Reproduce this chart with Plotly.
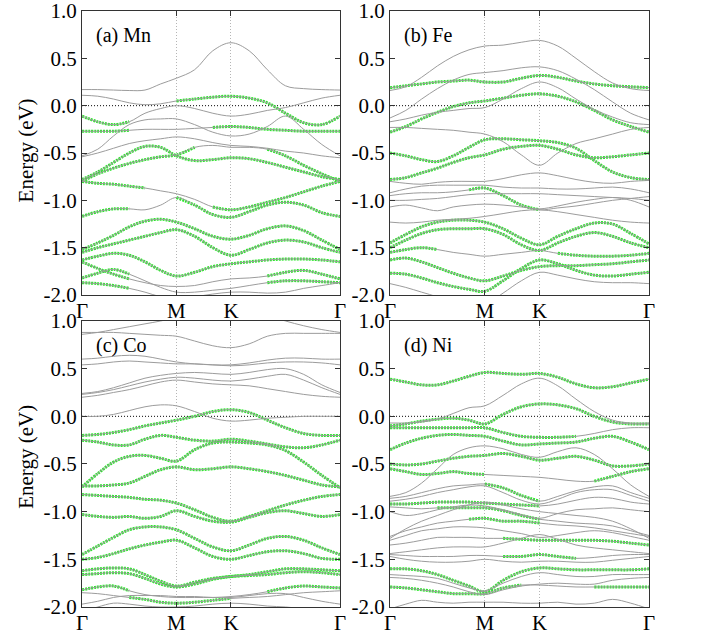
import plotly.graph_objects as go

# k-path sample positions (Gamma - M - K - Gamma)
k_path = [0.0, 0.0962, 0.1925, 0.2887, 0.3849, 0.4811, 0.5774,
          0.6885, 0.7996, 0.9107,
          1.0218, 1.1329, 1.2440, 1.3552, 1.4663, 1.5774]
k_ticks = [0.0, 0.5774, 0.9107, 1.5774]
k_labels = ["Γ", "M", "K", "Γ"]
e_ticks = [-2.0, -1.5, -1.0, -0.5, 0.0, 0.5, 1.0]
e_labels = ["-2.0", "-1.5", "-1.0", "-0.5", "0.0", "0.5", "1.0"]
panel_titles = ["(a) Mn", "(b) Fe", "(c) Co", "(d) Ni"]

ALL = [(0, 15)]
NONE = []

# ---------------- (a) Mn ----------------
mn_bands = [
    [0.17, 0.17, 0.165, 0.16, 0.165, 0.23, 0.29, 0.38, 0.58, 0.665, 0.58, 0.38, 0.21, 0.18, 0.17, 0.165],
    [0.11, 0.10, 0.07, 0.03, 0.01, 0.02, 0.05, 0.07, 0.09, 0.10, 0.08, 0.03, -0.08, -0.18, -0.2, -0.11],
    [-0.11, -0.17, -0.2, -0.17, -0.08, -0.03, 0.0, -0.03, -0.08, -0.11, -0.09, -0.05, -0.02, 0.03, 0.08, 0.11],
    [-0.53, -0.46, -0.32, -0.2, -0.15, -0.14, -0.14, -0.2, -0.28, -0.32, -0.3, -0.22, -0.11, -0.25, -0.41, -0.53],
    [-0.27, -0.27, -0.27, -0.26, -0.25, -0.25, -0.25, -0.24, -0.23, -0.22, -0.23, -0.25, -0.26, -0.27, -0.27, -0.27],
    [-0.54, -0.5, -0.45, -0.4, -0.37, -0.35, -0.33, -0.35, -0.39, -0.42, -0.43, -0.45, -0.48, -0.5, -0.53, -0.55],
    [-0.78, -0.7, -0.6, -0.5, -0.43, -0.44, -0.53, -0.58, -0.57, -0.55, -0.56, -0.6, -0.65, -0.7, -0.75, -0.78],
    [-0.8, -0.72, -0.66, -0.61, -0.57, -0.54, -0.52, -0.44, -0.42, -0.44, -0.44, -0.46, -0.53, -0.63, -0.72, -0.8],
    [-0.8, -0.82, -0.83, -0.85, -0.87, -0.9, -0.93, -0.99, -1.07, -1.1, -1.07, -1.02, -0.97, -0.91, -0.85, -0.8],
    [-1.17, -1.12, -1.09, -1.09, -1.1, -1.05, -0.97, -1.05, -1.15, -1.18, -1.12, -1.05, -1.02, -1.05, -1.13, -1.17],
    [-1.52, -1.45, -1.37, -1.28, -1.22, -1.2, -1.23, -1.3, -1.38, -1.41, -1.37, -1.3, -1.27, -1.32, -1.42, -1.52],
    [-1.55, -1.5, -1.46, -1.42, -1.38, -1.34, -1.31, -1.38, -1.5, -1.58, -1.52, -1.45, -1.42, -1.44, -1.5, -1.55],
    [-1.63, -1.59, -1.56, -1.58, -1.65, -1.74, -1.8, -1.76, -1.7, -1.67, -1.65, -1.63, -1.62, -1.62, -1.63, -1.65],
    [-1.65, -1.72, -1.78, -1.83, -1.87, -1.9, -1.91, -1.9, -1.86, -1.83, -1.82, -1.8, -1.76, -1.74, -1.78, -1.83],
    [-1.82, -1.77, -1.73, -1.78, -1.85, -1.92, -1.97, -1.97, -1.95, -1.93, -1.9, -1.87, -1.85, -1.85, -1.86, -1.87],
    [-1.87, -1.88, -1.9, -1.93, -1.97, -2.02, -2.05, -2.02, -1.99, -1.97, -1.97, -1.98, -1.97, -1.93, -1.9, -1.87],
]
mn_green = [NONE, [(6, 15)], [(0, 3)], NONE, [(0, 3), (8, 15)], NONE, ALL,
            [(0, 7), (11, 15)], [(0, 4), (8, 15)], [(0, 3), (6, 15)], ALL, ALL, ALL,
            [(0, 3), (11, 15)], [(0, 3), (11, 15)], [(0, 3)]]

# ---------------- (b) Fe ----------------
fe_bands = [
    [0.16, 0.2, 0.3, 0.42, 0.52, 0.59, 0.63, 0.64, 0.67, 0.69, 0.63, 0.5, 0.36, 0.24, 0.18, 0.16],
    [-0.13, -0.05, 0.07, 0.18, 0.27, 0.33, 0.35, 0.37, 0.4, 0.41, 0.37, 0.28, 0.17, 0.04, -0.08, -0.15],
    [0.19, 0.21, 0.23, 0.25, 0.26, 0.27, 0.25, 0.25, 0.29, 0.32, 0.3, 0.26, 0.23, 0.21, 0.2, 0.19],
    [-0.17, -0.14, -0.1, -0.07, -0.05, -0.03, -0.02, 0.07, 0.18, 0.25, 0.19, 0.07, -0.04, -0.12, -0.18, -0.2],
    [-0.28, -0.22, -0.14, -0.07, -0.01, 0.03, 0.05, 0.08, 0.11, 0.125, 0.1, 0.04, -0.05, -0.15, -0.22, -0.28],
    [-0.23, -0.23, -0.24, -0.25, -0.26, -0.28, -0.3, -0.38, -0.52, -0.63, -0.5, -0.4, -0.35, -0.3, -0.25, -0.23],
    [-0.5, -0.53, -0.57, -0.59, -0.53, -0.44, -0.36, -0.35, -0.36, -0.37, -0.39, -0.45, -0.58, -0.7, -0.76, -0.78],
    [-0.78, -0.76, -0.71, -0.66, -0.6, -0.55, -0.52, -0.46, -0.43, -0.42, -0.46, -0.52, -0.55, -0.54, -0.52, -0.5],
    [-0.8, -0.82, -0.83, -0.81, -0.8, -0.8, -0.8, -0.77, -0.73, -0.71, -0.74, -0.78, -0.81, -0.82, -0.8, -0.79],
    [-0.92, -0.88, -0.85, -0.84, -0.84, -0.84, -0.84, -0.86, -0.87, -0.87, -0.88, -0.88, -0.87, -0.86, -0.88, -0.92],
    [-0.95, -0.93, -0.92, -0.92, -0.91, -0.89, -0.87, -0.95, -1.05, -1.1, -1.08, -1.06, -1.03, -1.0, -0.98, -0.96],
    [-1.0, -1.0, -0.99, -0.98, -0.96, -0.94, -0.93, -0.93, -0.93, -0.93, -0.94, -0.95, -0.96, -0.97, -0.98, -1.0],
    [-1.07, -1.05, -1.08, -1.11, -1.07, -1.05, -1.04, -1.05, -1.07, -1.09, -1.06, -1.02, -0.99, -0.97, -1.0, -1.07],
    [-1.23, -1.24, -1.23, -1.21, -1.2, -1.19, -1.17, -1.14, -1.11, -1.1, -1.12, -1.15, -1.18, -1.21, -1.23, -1.24],
    [-1.45, -1.36, -1.28, -1.23, -1.21, -1.21, -1.23, -1.3, -1.4, -1.47, -1.38, -1.3, -1.24, -1.25, -1.35, -1.46],
    [-1.5, -1.42, -1.35, -1.31, -1.3, -1.3, -1.3, -1.36, -1.47, -1.53, -1.45, -1.38, -1.34, -1.38, -1.45, -1.5],
    [-1.55, -1.52, -1.5, -1.52, -1.55, -1.57, -1.59, -1.57, -1.55, -1.53, -1.56, -1.58, -1.59, -1.59, -1.58, -1.56],
    [-1.63, -1.61, -1.65, -1.71, -1.77, -1.82, -1.85, -1.8, -1.74, -1.7, -1.69, -1.69, -1.68, -1.67, -1.65, -1.63],
    [-1.77, -1.78, -1.82, -1.87, -1.91, -1.94, -1.96, -1.85, -1.72, -1.63, -1.67, -1.74, -1.79, -1.8, -1.78, -1.76],
    [-1.88, -1.92, -1.97, -2.02, -2.08, -2.1, -2.1, -1.98, -1.85, -1.76, -1.79, -1.83, -1.86, -1.87, -1.87, -1.88],
]
fe_green = [NONE, NONE, ALL, NONE, ALL, NONE, ALL, ALL, NONE, NONE, [(5, 9)], NONE, NONE, NONE,
            ALL, ALL, [(0, 3), (10, 15)], ALL, ALL, NONE]

# ---------------- (c) Co ----------------
co_bands = [
    [0.88, 0.88, 0.88, 0.87, 0.86, 0.85, 0.84, 0.79, 0.74, 0.72, 0.76, 0.84, 0.87, 0.87, 0.87, 0.87],
    [0.86, 0.88, 0.91, 0.94, 0.97, 1.0, 1.04, 1.1, 1.14, 1.15, 1.12, 1.06, 1.0, 0.95, 0.91, 0.88],
    [0.6, 0.61, 0.63, 0.64, 0.63, 0.6, 0.57, 0.55, 0.54, 0.54, 0.56, 0.59, 0.61, 0.61, 0.6, 0.6],
    [0.54, 0.55, 0.57, 0.58, 0.57, 0.56, 0.55, 0.55, 0.54, 0.53, 0.54, 0.56, 0.57, 0.57, 0.56, 0.54],
    [0.24, 0.26, 0.3, 0.35, 0.4, 0.43, 0.45, 0.46, 0.45, 0.44, 0.46, 0.49, 0.5, 0.44, 0.33, 0.25],
    [0.23, 0.25, 0.28, 0.32, 0.36, 0.39, 0.41, 0.4, 0.38, 0.37, 0.39, 0.42, 0.44, 0.38, 0.3, 0.23],
    [0.2, 0.22, 0.25, 0.28, 0.32, 0.36, 0.38, 0.36, 0.34, 0.33, 0.32, 0.29, 0.26, 0.23, 0.21, 0.2],
    [0.0, 0.0, 0.02, 0.06, 0.1, 0.12, 0.11, 0.05, -0.02, -0.05, -0.04, -0.02, -0.01, 0.0, 0.0, 0.0],
    [-0.2, -0.19, -0.17, -0.14, -0.1, -0.07, -0.04, 0.0, 0.05, 0.07, 0.04, -0.04, -0.12, -0.18, -0.2, -0.2],
    [-0.25, -0.27, -0.3, -0.3, -0.24, -0.2, -0.22, -0.25, -0.26, -0.24, -0.26, -0.29, -0.32, -0.33, -0.3, -0.25],
    [-0.74, -0.6, -0.48, -0.42, -0.41, -0.44, -0.47, -0.35, -0.28, -0.27, -0.28, -0.3, -0.36, -0.48, -0.62, -0.75],
    [-0.73, -0.73, -0.72, -0.7, -0.63, -0.56, -0.53, -0.56, -0.55, -0.53, -0.55, -0.58, -0.62, -0.67, -0.72, -0.74],
    [-0.82, -0.83, -0.84, -0.85, -0.87, -0.88, -0.91, -0.98, -1.06, -1.1, -1.05, -0.99, -0.93, -0.88, -0.84, -0.82],
    [-1.03, -1.05, -1.06, -1.05, -1.07, -1.05, -0.99, -1.05, -1.1, -1.11, -1.06, -1.01, -0.99, -1.02, -1.05, -1.03],
    [-1.45, -1.36, -1.27, -1.19, -1.16, -1.16, -1.19, -1.28, -1.37, -1.41, -1.35, -1.28, -1.26, -1.3, -1.38, -1.45],
    [-1.5, -1.48, -1.44, -1.39, -1.35, -1.32, -1.3, -1.38, -1.47, -1.5, -1.46, -1.42, -1.41, -1.44, -1.49, -1.5],
    [-1.62, -1.6, -1.59, -1.6, -1.66, -1.73, -1.78, -1.74, -1.7, -1.68, -1.66, -1.63, -1.6, -1.6, -1.61, -1.62],
    [-1.66, -1.65, -1.64, -1.65, -1.7, -1.76, -1.79, -1.76, -1.71, -1.68, -1.67, -1.66, -1.64, -1.63, -1.64, -1.66],
    [-1.82, -1.79, -1.78, -1.83, -1.87, -1.89, -1.9, -1.9, -1.9, -1.89, -1.87, -1.84, -1.8, -1.78, -1.79, -1.8],
    [-1.85, -1.86, -1.88, -1.9, -1.92, -1.95, -1.96, -1.95, -1.93, -1.91, -1.9, -1.89, -1.87, -1.85, -1.84, -1.83],
    [-1.97, -1.94, -1.9, -1.88, -1.88, -1.88, -1.89, -1.89, -1.9, -1.9, -1.88, -1.86, -1.86, -1.9, -1.94, -1.97],
    [-2.05, -2.0, -1.96, -1.97, -1.99, -2.0, -2.0, -1.99, -1.97, -1.96, -1.97, -1.99, -2.0, -2.02, -2.05, -2.06],
]
co_green = [NONE, NONE, NONE, NONE, NONE, NONE, NONE, NONE, ALL, ALL, ALL, ALL, ALL, ALL, ALL, ALL,
            ALL, ALL, [(0, 3), (11, 15)], [(3, 9)], NONE, NONE]

# ---------------- (d) Ni ----------------
ni_bands = [
    [0.39, 0.36, 0.33, 0.33, 0.37, 0.42, 0.46, 0.45, 0.44, 0.45, 0.41, 0.34, 0.3, 0.31, 0.35, 0.39],
    [-0.07, -0.07, -0.06, -0.03, 0.03, 0.09, 0.11, 0.22, 0.34, 0.4, 0.32, 0.18, 0.05, -0.04, -0.07, -0.07],
    [-0.1, -0.08, -0.05, -0.03, -0.02, -0.04, -0.08, 0.02, 0.1, 0.13, 0.12, 0.08, 0.0, -0.06, -0.08, -0.08],
    [-0.12, -0.12, -0.12, -0.12, -0.12, -0.12, -0.12, -0.17, -0.21, -0.22, -0.22, -0.21, -0.18, -0.14, -0.12, -0.12],
    [-0.35, -0.28, -0.23, -0.2, -0.19, -0.2, -0.21, -0.26, -0.3, -0.29, -0.28, -0.27, -0.23, -0.21, -0.27, -0.35],
    [-0.84, -0.8, -0.7, -0.55, -0.4, -0.33, -0.31, -0.34, -0.4, -0.43, -0.37, -0.33, -0.4, -0.55, -0.72, -0.84],
    [-0.5, -0.51, -0.5, -0.47, -0.44, -0.42, -0.41, -0.39, -0.42, -0.46, -0.44, -0.42, -0.46, -0.52, -0.52, -0.5],
    [-0.55, -0.58, -0.61, -0.6, -0.58, -0.6, -0.61, -0.62, -0.63, -0.64, -0.66, -0.68, -0.68, -0.63, -0.58, -0.55],
    [-0.86, -0.84, -0.8, -0.76, -0.73, -0.72, -0.71, -0.75, -0.83, -0.89, -0.84, -0.78, -0.74, -0.73, -0.8, -0.86],
    [-0.89, -0.87, -0.84, -0.8, -0.77, -0.74, -0.73, -0.8, -0.88, -0.92, -0.87, -0.8, -0.77, -0.77, -0.83, -0.89],
    [-0.92, -0.92, -0.91, -0.9, -0.9, -0.9, -0.91, -0.92, -0.93, -0.94, -0.92, -0.88, -0.85, -0.86, -0.9, -0.92],
    [-1.0, -1.04, -1.02, -0.98, -0.95, -0.93, -0.94, -0.98, -1.03, -1.07, -1.02, -0.98, -0.97, -0.96, -0.98, -1.0],
    [-0.95, -0.96, -0.97, -0.96, -0.96, -0.96, -0.96, -0.99, -1.04, -1.08, -1.1, -1.12, -1.13, -1.15, -1.2, -1.25],
    [-1.28, -1.18, -1.1, -1.04, -0.98, -0.93, -0.9, -0.93, -0.97, -1.0, -1.02, -1.04, -1.06, -1.1, -1.18, -1.28],
    [-1.26, -1.2, -1.16, -1.12, -1.1, -1.08, -1.07, -1.1, -1.1, -1.12, -1.14, -1.15, -1.17, -1.2, -1.23, -1.26],
    [-1.3, -1.25, -1.2, -1.18, -1.16, -1.16, -1.17, -1.2, -1.23, -1.27, -1.25, -1.22, -1.2, -1.22, -1.26, -1.3],
    [-1.35, -1.33, -1.3, -1.27, -1.27, -1.27, -1.28, -1.28, -1.29, -1.3, -1.3, -1.3, -1.3, -1.31, -1.33, -1.35],
    [-1.44, -1.42, -1.4, -1.38, -1.37, -1.37, -1.37, -1.33, -1.28, -1.24, -1.29, -1.35, -1.38, -1.4, -1.42, -1.44],
    [-1.45, -1.46, -1.47, -1.47, -1.47, -1.46, -1.46, -1.47, -1.47, -1.45, -1.47, -1.49, -1.48, -1.46, -1.45, -1.45],
    [-1.47, -1.5, -1.52, -1.53, -1.53, -1.52, -1.5, -1.52, -1.53, -1.52, -1.52, -1.53, -1.53, -1.51, -1.49, -1.47],
    [-1.6, -1.6, -1.62, -1.66, -1.72, -1.78, -1.84, -1.72, -1.63, -1.59, -1.6, -1.61, -1.61, -1.61, -1.61, -1.6],
    [-1.66, -1.67, -1.68, -1.7, -1.75, -1.8, -1.83, -1.75, -1.68, -1.64, -1.66, -1.68, -1.68, -1.66, -1.66, -1.66],
    [-1.69, -1.7, -1.72, -1.75, -1.79, -1.84, -1.87, -1.82, -1.78, -1.76, -1.75, -1.76, -1.76, -1.72, -1.7, -1.69],
    [-1.79, -1.8, -1.82, -1.84, -1.86, -1.86, -1.86, -1.8, -1.77, -1.77, -1.78, -1.79, -1.79, -1.79, -1.79, -1.79],
    [-2.02, -1.97, -1.93, -1.95, -1.96, -1.95, -1.95, -1.95, -1.96, -1.96, -1.95, -1.97, -1.96, -1.92, -1.96, -2.02],
]
ni_green = [ALL, NONE, ALL, [(0, 11)], ALL, NONE, ALL, [(0, 6), (12, 15)], [(6, 9)], NONE,
            [(0, 9)], NONE, [(3, 9)], NONE, [(5, 9)], NONE, [(7, 15)], NONE, [(7, 11)], NONE,
            ALL, NONE, NONE, [(0, 8), (12, 15)], NONE]

GRAY = "#9c9c9c"
GREEN = "#2ee62e"
FRAME = "#333333"
FONT = "Liberation Serif, Times New Roman, Tinos, DejaVu Serif, serif"

panels = [(mn_bands, mn_green), (fe_bands, fe_green), (co_bands, co_green), (ni_bands, ni_green)]
x_domains = [[0.1165, 0.4830], [0.5540, 0.9219], [0.1165, 0.4830], [0.5540, 0.9219]]
y_domains = [[0.5369, 0.9827], [0.5369, 0.9827], [0.0471, 0.4961], [0.0471, 0.4961]]

fig = go.Figure()
for p, (bands, greens) in enumerate(panels):
    sfx = "" if p == 0 else str(p + 1)
    for band, rngs in zip(bands, greens):
        for (s, e) in rngs:
            yy = [v if s <= i <= e else None for i, v in enumerate(band)]
            fig.add_trace(go.Scatter(
                x=k_path, y=yy, mode="lines",
                line=dict(color=GREEN, width=3, dash="2px,1px", shape="spline"),
                xaxis="x" + sfx, yaxis="y" + sfx, hoverinfo="skip", showlegend=False))
    for band in bands:
        fig.add_trace(go.Scatter(
            x=k_path, y=band, mode="lines",
            line=dict(color=GRAY, width=1, shape="spline"),
            xaxis="x" + sfx, yaxis="y" + sfx, hoverinfo="skip", showlegend=False))

layout = dict(
    width=704, height=637,
    margin=dict(l=0, r=0, t=0, b=0, autoexpand=False),
    paper_bgcolor="white", plot_bgcolor="white",
    showlegend=False,
    font=dict(family=FONT, size=20, color="black"),
    shapes=[], annotations=[],
)
for p in range(4):
    sfx = "" if p == 0 else str(p + 1)
    layout["xaxis" + sfx] = dict(
        domain=x_domains[p], anchor="y" + sfx, range=[0, k_ticks[-1]], automargin=False,
        tickvals=k_ticks, ticktext=k_labels, ticks="inside", ticklen=5,
        ticklabeloverflow="allow", ticklabelstandoff=-3,
        tickcolor=FRAME, showline=True, linecolor=FRAME, linewidth=1, mirror="ticks",
        showgrid=True, gridcolor="#b5b5b5", griddash="1px,2px", gridwidth=1,
        zeroline=False, tickfont=dict(family=FONT, size=21, color="black"))
    layout["yaxis" + sfx] = dict(
        domain=y_domains[p], anchor="x" + sfx, range=[-2, 1], automargin=False,
        tickvals=e_ticks, ticktext=e_labels, ticks="inside", ticklen=5,
        ticklabeloverflow="allow",
        tickcolor=FRAME, showline=True, linecolor=FRAME, linewidth=1, mirror="ticks",
        showgrid=False, zeroline=False, tickfont=dict(family=FONT, size=21, color="black"))
    layout["shapes"].append(dict(
        type="line", xref="x" + sfx + " domain", yref="y" + sfx,
        x0=0, x1=1, y0=0, y1=0, layer="below",
        line=dict(color="black", width=1, dash="1px,2px")))
    layout["annotations"].append(dict(
        text=panel_titles[p], xref="x" + sfx + " domain", yref="y" + sfx + " domain",
        x=0.045, y=0.915, xanchor="left", yanchor="middle", showarrow=False,
        font=dict(family=FONT, size=20, color="black")))

for yc in [0.764, 0.283]:
    layout["annotations"].append(dict(
        text="Energy (eV)", xref="paper", yref="paper", x=0.037, y=yc,
        xanchor="center", yanchor="middle", textangle=-90, showarrow=False,
        font=dict(family=FONT, size=21, color="black")))

fig.update_layout(**layout)
fig.write_html(
    "out.html",
    config={"displayModeBar": False, "staticPlot": True},
    post_script=("document.documentElement.style.margin='0px';"
                 "document.body.style.margin='0px';"
                 "document.documentElement.style.overflow='hidden';"
                 "document.body.style.overflow='hidden';"),
)
